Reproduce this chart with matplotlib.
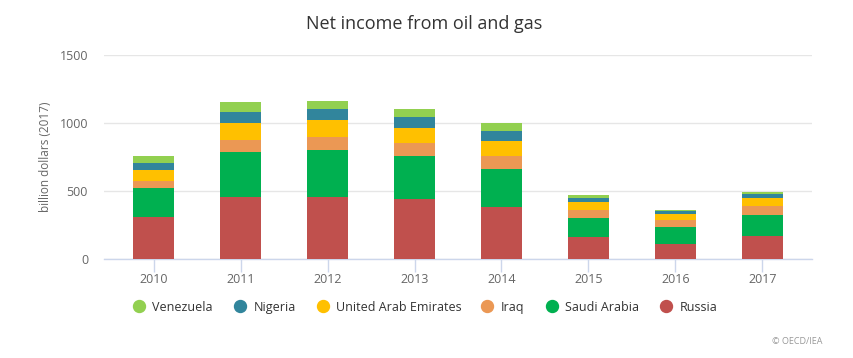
import matplotlib
matplotlib.use("Agg")
import matplotlib.pyplot as plt
from matplotlib.lines import Line2D
import numpy as np

plt.rcParams['font.family'] = ['Open Sans', 'DejaVu Sans']

years = ["2010", "2011", "2012", "2013", "2014", "2015", "2016", "2017"]
russia = [310, 458, 458, 441, 384, 163, 113, 172]
saudi_arabia = [215, 333, 347, 320, 281, 140, 123, 153]
iraq = [51, 88, 96, 96, 96, 59, 52, 67]
uae = [82, 119, 119, 111, 111, 59, 45, 59]
nigeria = [51, 81, 81, 74, 74, 30, 22, 29]
venezuela = [52, 74, 66, 66, 52, 22, 7, 15]

series = [
    ("Russia", russia, "#c0504d"),
    ("Saudi Arabia", saudi_arabia, "#00b050"),
    ("Iraq", iraq, "#eb9854"),
    ("United Arab Emirates", uae, "#ffc000"),
    ("Nigeria", nigeria, "#31859c"),
    ("Venezuela", venezuela, "#92d050"),
]

W, H = 854, 358
fig = plt.figure(figsize=(W / 100, H / 100), dpi=100)
ax = fig.add_axes([104 / W, 1 - 259 / H, (812 - 104) / W, (259 - 55.3) / H])

x = np.arange(len(years))
bottom = np.zeros(len(years))
for name, vals, col in series:
    ax.bar(x, vals, width=0.48, bottom=bottom, color=col, zorder=3, linewidth=0)
    bottom += np.array(vals)

ax.set_xlim(-0.57, 7.57)
ax.set_ylim(0, 1500)
ax.set_yticks([0, 500, 1000, 1500])
ax.set_yticklabels(["0", "500", "1000", "1500"])
ax.set_xticks(x)
ax.set_xticklabels(years)
ax.grid(axis='y', color='#e6e6e6', linewidth=1, zorder=0)
for s in ['top', 'right', 'left']:
    ax.spines[s].set_visible(False)
ax.spines['bottom'].set_color('#ccd6eb')
ax.spines['bottom'].set_linewidth(1)
ax.tick_params(axis='y', length=0, pad=11.5, labelsize=9, labelcolor='#666666')
ax.tick_params(axis='x', length=9, color='#ccd6eb', width=1, pad=1, labelsize=9, labelcolor='#666666')
ax.set_ylabel("billion dollars (2017)", fontsize=8.5, color='#666666')
ax.yaxis.set_label_coords((52 - 104) / (812 - 104), 0.5)

fig.text(424.5 / W, 1 - 24 / H, "Net income from oil and gas", ha='center', va='center',
         fontsize=13, color='#333333')

# legend, laid out manually (pixel x of each marker centre)
legend_marker_x = [139, 240, 323, 487.3, 551.7, 666]
legend_y = 306
for (name, vals, col), mx in zip(reversed(series), legend_marker_x):
    fig.add_artist(Line2D([mx / W], [1 - legend_y / H], marker='o', linestyle='none',
                          markersize=8.6, markerfacecolor=col, markeredgecolor=col,
                          transform=fig.transFigure))
    fig.text((mx + 13.5) / W, 1 - legend_y / H, name, ha='left', va='center_baseline',
             fontsize=9, color='#333333')

fig.text(823 / W, 1 - 342 / H, "© OECD/IEA", ha='right', va='center', fontsize=6.5,
         color='#999999')

fig.savefig("out.png", dpi=100)
